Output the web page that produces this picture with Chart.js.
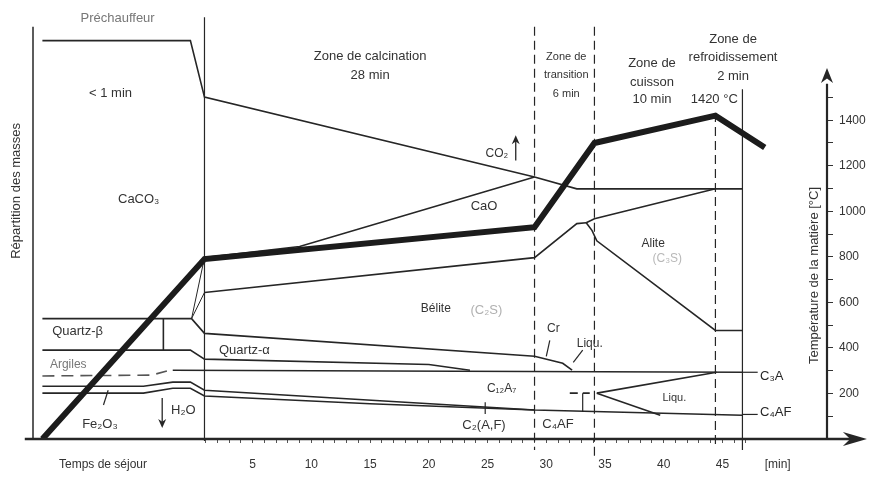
<!DOCTYPE html>
<html>
<head>
<meta charset="utf-8">
<script src="https://cdn.jsdelivr.net/npm/chart.js@4.4.1/dist/chart.umd.min.js"></script>
<style>
  html, body { margin: 0; padding: 0; background: #fff; }
  #wrap { width: 888px; height: 482px; }
</style>
</head>
<body>
<div id="wrap"><canvas id="chart"></canvas></div>
<script>
// x = residence time [min], mass lines in % of the mix, kiln temperature in °C
const zoneBounds = [0.9, 29, 34.1, 44.4, 46.7];
const timeTicks = [5, 10, 15, 20, 25, 30, 35, 40, 45];
const tempTicks = [200, 400, 600, 800, 1000, 1200, 1400];

const tempCurve = [[-12.9, 0], [0.9, 790], [29, 930], [34.1, 1300], [44.4, 1420], [48.6, 1280]];

const caco3Line = [[-12.9, 97.3], [-0.3, 97.3], [0.9, 83.5], [29, 64], [32.6, 61.1], [46.7, 61.1]];
const caoLine = [[0.9, 44.3], [9, 47], [29, 64]];
const beliteTop = [[0.9, 35.8], [29, 44.3], [32.6, 52.6], [33.4, 52.8]];
const aliteTop = [[33.4, 52.8], [34.1, 53.8], [44.4, 61.1]];
const aliteBottom = [[33.4, 52.8], [33.9, 50.9], [34.3, 48.4], [44.4, 26.5], [46.7, 26.5]];
const riseA = [[-0.2, 29.4], [0.9, 44.3]];
const riseB = [[-0.2, 29.4], [0.9, 35.8]];
const quartzTop = [[-12.9, 29.4], [-0.2, 29.4], [0.9, 25.8], [29, 20.2], [31.4, 18.5], [32.2, 16.8]];
const quartzBottom = [[-12.9, 21.7], [-0.3, 21.7], [0.9, 19.5], [20, 18.2], [23.5, 16.8]];
const quartzStep = [[-2.6, 29.4], [-2.6, 21.7]];
const argilesDash = [[-12.9, 15.4], [-3.6, 15.6], [-2.3, 16.6]];
const c3aLine = [[-1.8, 16.8], [46.7, 16.3]];
const ironTop = [[-12.9, 12.9], [-4.3, 12.9], [-1.8, 13.9], [-0.3, 13.9], [0.9, 11.9], [29, 7.1], [46.7, 5.8]];
const ironBottom = [[-12.9, 11.2], [-4.3, 11.2], [-1.8, 12.4], [-0.3, 12.4], [0.9, 10.5], [15, 8.6], [29, 7.1]];
const liquDash = [[32.0, 11.2], [33.7, 11.2]];
const liquTop = [[34.3, 11.2], [44.5, 16.3]];
const liquBottom = [[34.3, 11.2], [39.7, 5.8]];

const INK = '#262626';
const FONT = "'Liberation Sans', Arial, 'DejaVu Sans', sans-serif";

// zone separators: extent in mass units, dashed or not
const zoneTop = [103, 100.7, 100.7, 79.6, 85.4];
const zoneBottom = [-0.5, -2.7, -4.8, -1.5, -2.7];
const zoneDashed = [false, true, true, true, false];

// text notes placed in (min, mass %) coordinates
const notes = [
  ['Préchauffeur', -6.5, 102.7, 13, '#777'],
  ['< 1 min', -7.1, 84.4, 13],
  ['CaCO₃', -4.7, 58.6, 13],
  ['Zone de calcination', 15, 93.4, 13],
  ['28 min', 15, 88.8, 13],
  ['Zone de', 31.7, 93.4, 11],
  ['transition', 31.7, 88.8, 11],
  ['6 min', 31.7, 84.2, 11],
  ['Zone de', 39.0, 91.7, 13],
  ['cuisson', 39.0, 87.1, 13],
  ['10 min', 39.0, 82.9, 13],
  ['Zone de', 45.9, 97.6, 13],
  ['refroidissement', 45.9, 93.2, 13],
  ['2 min', 45.9, 88.6, 13],
  ['1420 °C', 44.3, 82.9, 13],
  ['CO₂', 25.8, 69.8, 12],
  ['CaO', 24.7, 56.9, 13],
  ['Bélite', 20.6, 31.9, 12],
  ['(C₂S)', 24.9, 31.4, 13, '#b0b0b0'],
  ['Alite', 39.1, 47.7, 12],
  ['(C₃S)', 40.3, 44.0, 12, '#b8b8b8'],
  ['Quartz-β', -9.9, 26.3, 13],
  ['Quartz-α', 4.3, 21.7, 13],
  ['Argiles', -10.7, 18.2, 12, '#777'],
  ['Fe₂O₃', -8.0, 3.6, 13],
  ['H₂O', -0.9, 7.1, 13],
  ['Cr', 30.6, 27.0, 12],
  ['Liqu.', 33.7, 23.4, 12],
  ['C₁₂A₇', 26.2, 12.4, 12],
  ['C₂(A,F)', 24.7, 3.4, 13],
  ['C₄AF', 31.0, 3.6, 13],
  ['Liqu.', 40.9, 10.0, 11],
  ['C₃A', 48.2, 15.3, 13, INK, 'left'],
  ['C₄AF', 48.2, 6.4, 13, INK, 'left']
];

// short leader lines, (min, mass %) coordinates
const leaders = [
  [[-7.7, 8.3], [-7.3, 11.9]],
  [[30.3, 24.1], [30.0, 20.2]],
  [[33.1, 21.7], [32.3, 18.7]],
  [[24.8, 6.1], [24.8, 9.0]],
  [[33.1, 11.2], [33.1, 6.6]],
  [[46.7, 16.3], [48.0, 16.3]],
  [[46.7, 6.0], [48.0, 6.0]]
];

function pts(a) {
  return a.map(([x, y]) => ({ x: x, y: y }));
}

function massLine(data, extra) {
  return Object.assign({
    data: pts(data), yAxisID: 'mass', borderColor: INK, borderWidth: 1.6,
    pointRadius: 0, tension: 0, fill: false
  }, extra || {});
}

function head(ctx, x, y, dir, len, half) {
  ctx.beginPath();
  if (dir === 'right') {
    ctx.moveTo(x, y); ctx.lineTo(x - len, y - half); ctx.lineTo(x - len * 0.7, y); ctx.lineTo(x - len, y + half);
  } else if (dir === 'up') {
    ctx.moveTo(x, y); ctx.lineTo(x - half, y + len); ctx.lineTo(x, y + len * 0.7); ctx.lineTo(x + half, y + len);
  } else {
    ctx.moveTo(x, y); ctx.lineTo(x - half, y - len); ctx.lineTo(x, y - len * 0.7); ctx.lineTo(x + half, y - len);
  }
  ctx.closePath();
  ctx.fill();
}

function seg(ctx, x1, y1, x2, y2, w) {
  ctx.lineWidth = w;
  ctx.beginPath();
  ctx.moveTo(x1, y1);
  ctx.lineTo(x2, y2);
  ctx.stroke();
}

const overlay = {
  id: 'overlay',
  afterDraw(chart) {
    const ctx = chart.ctx;
    const area = chart.chartArea;
    const sx = chart.scales.x, sm = chart.scales.mass, st = chart.scales.temp;
    const X = v => sx.getPixelForValue(v);
    const M = v => sm.getPixelForValue(v);
    const T = v => st.getPixelForValue(v);
    ctx.save();
    ctx.strokeStyle = INK;
    ctx.fillStyle = INK;

    // left axis line
    seg(ctx, area.left, M(0), area.left, M(100.7), 1.5);
    // time axis with arrow
    seg(ctx, X(-14.4), M(0), X(56), M(0), 2.6);
    head(ctx, X(57.3), M(0), 'right', 24, 7);
    // temperature axis with arrow
    seg(ctx, area.right, T(0), area.right, T(1560), 2.2);
    head(ctx, area.right, T(1629), 'up', 15, 6);

    leaders.forEach(([a, b]) => seg(ctx, X(a[0]), M(a[1]), X(b[0]), M(b[1]), 1.2));

    // H2O leaving, CO2 leaving
    seg(ctx, X(-2.7), M(10), X(-2.7), M(3.5), 1.3);
    head(ctx, X(-2.7), M(2.7), 'down', 9, 4);
    seg(ctx, X(27.4), M(68), X(27.4), M(73), 1.3);
    head(ctx, X(27.4), M(74.2), 'up', 9, 4);

    ctx.textBaseline = 'middle';
    notes.forEach(n => {
      ctx.font = (n[3] || 12) + 'px ' + FONT;
      ctx.fillStyle = n[4] || '#333';
      ctx.textAlign = n[5] || 'center';
      ctx.fillText(n[0], X(n[1]), M(n[2]));
    });

    // rotated axis titles
    ctx.fillStyle = '#333';
    ctx.font = '13px ' + FONT;
    ctx.textAlign = 'center';
    ctx.save();
    ctx.translate(area.left - 17, M(60.6));
    ctx.rotate(-Math.PI / 2);
    ctx.fillText('Répartition des masses', 0, 0);
    ctx.restore();
    ctx.save();
    ctx.translate(X(52.8), T(718));
    ctx.rotate(-Math.PI / 2);
    ctx.fillText('Température de la matière [°C]', 0, 0);
    ctx.restore();

    ctx.restore();
  }
};

const datasets = [
  { data: pts(tempCurve), yAxisID: 'temp', borderColor: '#1c1c1c', borderWidth: 6, pointRadius: 0, tension: 0, fill: false },
  massLine(caco3Line),
  massLine(caoLine),
  massLine(beliteTop),
  massLine(aliteTop),
  massLine(aliteBottom),
  massLine(riseA, { borderWidth: 1 }),
  massLine(riseB, { borderWidth: 1 }),
  massLine(quartzTop),
  massLine(quartzBottom),
  massLine(quartzStep),
  massLine(argilesDash, { borderDash: [12, 7], borderColor: '#555' }),
  massLine(c3aLine),
  massLine(ironTop),
  massLine(ironBottom),
  massLine(liquDash, { borderDash: [8, 5] }),
  massLine(liquTop),
  massLine(liquBottom)
];

zoneBounds.forEach((b, i) => {
  datasets.push(massLine([[b, zoneTop[i]], [b, zoneBottom[i]]], {
    borderWidth: 1.2, borderDash: zoneDashed[i] ? [9, 5] : [], clip: false
  }));
});

const minorTicks = [];
for (let m = 1; m <= 47; m++) minorTicks.push(m);
const xTickValues = [-7.74].concat(minorTicks, [49.7]);

new Chart(document.getElementById('chart'), {
  type: 'line',
  data: { datasets: datasets },
  options: {
    responsive: true,
    maintainAspectRatio: false,
    animation: false,
    layout: { padding: { top: 12, left: 33, right: 0, bottom: 0 } },
    plugins: { legend: { display: false }, tooltip: { enabled: false } },
    scales: {
      x: {
        type: 'linear', position: 'bottom', min: -13.7, max: 53.9,
        border: { display: false },
        grid: {
          drawOnChartArea: false, drawTicks: true, tickLength: 4,
          color: c => (c.tick && (c.tick.value < 0.5 || c.tick.value > 48)) ? 'rgba(0,0,0,0)' : '#555'
        },
        afterBuildTicks: axis => { axis.ticks = xTickValues.map(v => ({ value: v })); },
        afterFit: s => { s.height = 43; },
        ticks: {
          autoSkip: false, maxRotation: 0, padding: 14, color: '#333',
          font: { size: 12, family: FONT },
          callback: v => v === -7.74 ? 'Temps de séjour' : v === 49.7 ? '[min]' : (timeTicks.includes(v) ? String(v) : '')
        }
      },
      temp: {
        type: 'linear', position: 'right', min: 0, max: 1870,
        border: { display: false },
        grid: { drawOnChartArea: false, drawTicks: true, tickLength: 6, color: '#333' },
        afterBuildTicks: axis => {
          const t = [];
          for (let v = 100; v <= 1500; v += 100) t.push({ value: v });
          axis.ticks = t;
        },
        afterFit: s => { s.width = 61; },
        ticks: {
          padding: 6, color: '#333', font: { size: 12, family: FONT },
          callback: v => tempTicks.includes(v) ? String(v) : ''
        }
      },
      mass: { type: 'linear', display: false, min: 0, max: 104 }
    }
  },
  plugins: [overlay]
});
</script>
</body>
</html>
